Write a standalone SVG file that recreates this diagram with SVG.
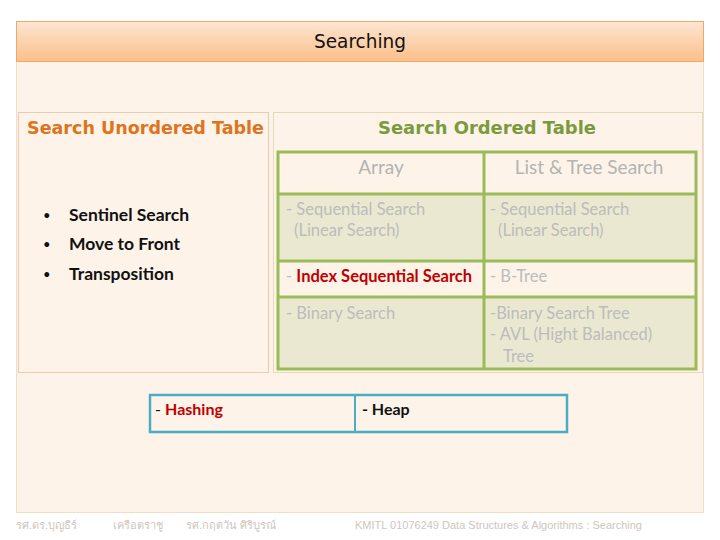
<svg xmlns="http://www.w3.org/2000/svg" width="720" height="540" viewBox="0 0 720 540">
<defs>
<linearGradient id="hdr" x1="0" y1="0" x2="0" y2="1">
<stop offset="0" stop-color="#fde6d2"/>
<stop offset="1" stop-color="#fbbf8a"/>
</linearGradient>
</defs>
<style>
.comic{font-family:"DejaVu Sans",sans-serif;}
.cal{font-family:Lato,"Noto Sans",sans-serif;}
.gray{fill:#bcbcbc;font-size:16.5px;}
.hd{fill:#b3b3b3;font-size:19px;text-anchor:middle;}
.blk{fill:#111;font-size:17.5px;font-weight:bold;}
.bul{fill:#111;font-size:13px;}
.tbl{stroke:#9bbb59;stroke-width:3;}
.foot{fill:#d0c6bc;font-size:11px;font-family:"Liberation Sans",sans-serif;}
</style>
<rect width="720" height="540" fill="#ffffff"/>
<g id="panel">
<rect x="16.5" y="21.5" width="687" height="491" fill="#fdf3e9" stroke="#f5dcc6"/>
</g>
<g id="header">
<rect x="16.5" y="21.5" width="687" height="40" fill="url(#hdr)" stroke="#f0a868"/>
<text x="360" y="48" class="comic" font-size="19" text-anchor="middle" fill="#111" textLength="92" lengthAdjust="spacingAndGlyphs">Searching</text>
</g>
<g id="unordered">
<rect x="18.5" y="112.5" width="250" height="260" fill="#fdf3e9" stroke="#e5cdb0"/>
<text x="27" y="134" class="comic" font-size="18" font-weight="bold" fill="#dd7420" textLength="237" lengthAdjust="spacingAndGlyphs">Search Unordered Table</text>
<text x="43" y="220" class="cal bul">•</text><text x="69" y="221" class="cal blk">Sentinel Search</text>
<text x="43" y="249" class="cal bul">•</text><text x="69" y="250" class="cal blk">Move to Front</text>
<text x="43" y="279" class="cal bul">•</text><text x="69" y="280" class="cal blk">Transposition</text>
</g>
<g id="ordered">
<rect x="273.5" y="112.5" width="429" height="260" fill="#fdf3e9" stroke="#e5d9b8"/>
<text x="487" y="134" class="comic" font-size="18" font-weight="bold" fill="#7a9a3e" text-anchor="middle" textLength="218" lengthAdjust="spacingAndGlyphs">Search Ordered Table</text>
</g>
<g id="table">
<rect x="278" y="152" width="418" height="42" fill="#fdf3e9"/>
<rect x="278" y="194" width="418" height="67" fill="#ebe8d1"/>
<rect x="278" y="261" width="418" height="36" fill="#fdf3e9"/>
<rect x="278" y="297" width="418" height="72" fill="#ebe8d1"/>
<g class="tbl" fill="none">
<rect x="278" y="152" width="418" height="217"/>
<line x1="484" y1="152" x2="484" y2="369"/>
<line x1="278" y1="194" x2="696" y2="194"/>
<line x1="278" y1="261" x2="696" y2="261"/>
<line x1="278" y1="297" x2="696" y2="297"/>
</g>
<g class="cal">
<text x="381" y="174" class="hd">Array</text>
<text x="589" y="174" class="hd">List &amp; Tree Search</text>
<text x="286" y="215" class="gray">- Sequential Search</text>
<text x="294" y="236" class="gray">(Linear Search)</text>
<text x="490" y="215" class="gray">- Sequential Search</text>
<text x="498" y="236" class="gray">(Linear Search)</text>
<text x="286" y="282" class="gray">- <tspan fill="#c00000" font-weight="bold">Index Sequential Search</tspan></text>
<text x="490" y="282" class="gray">- B-Tree</text>
<text x="286" y="319" class="gray">- Binary Search</text>
<text x="490" y="319" class="gray">-Binary Search Tree</text>
<text x="490" y="340" class="gray">- AVL (Hight Balanced)</text>
<text x="503" y="362" class="gray">Tree</text>
</g>
</g>
<g id="hashheap">
<rect x="150" y="395" width="417" height="37" fill="#fdf3e9" stroke="#4bacc6" stroke-width="2.5"/>
<line x1="355" y1="395" x2="355" y2="432" stroke="#4bacc6" stroke-width="2"/>
<text x="155" y="415" class="cal" font-size="16" fill="#111">- <tspan fill="#c00000" font-weight="bold">Hashing</tspan></text>
<text x="362" y="415" class="cal" font-size="16" font-weight="bold" fill="#111">- Heap</text>
</g>
<g id="footer">
<text x="16" y="529" class="foot">รศ.ดร.บุญธีร์</text>
<text x="113" y="529" class="foot">เครือตราชู</text>
<text x="186" y="529" class="foot">รศ.กฤตวัน   ศิริบูรณ์</text>
<text x="355" y="529" class="foot">KMITL   01076249 Data Structures &amp; Algorithms : Searching</text>
</g>
</svg>
